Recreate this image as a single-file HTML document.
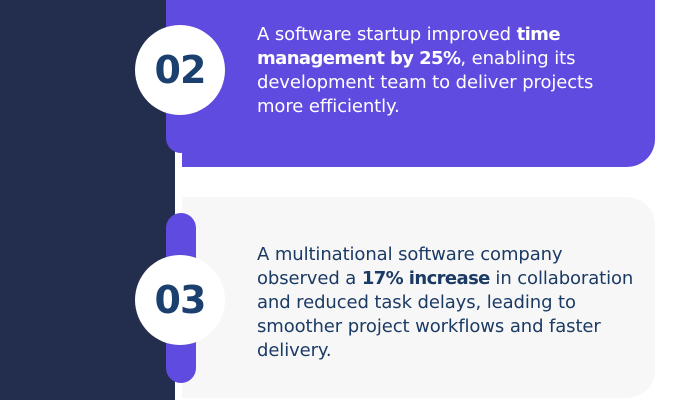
<!DOCTYPE html>
<html><head><style>
body{margin:0;width:700px;height:400px;position:relative;overflow:hidden;background:#fff;font-family:"Liberation Sans",sans-serif}
div{position:absolute}
.t{font-family:"DejaVu Sans","Liberation Sans",sans-serif;font-size:18px;line-height:24px;letter-spacing:-0.1px;white-space:nowrap}
.t b{letter-spacing:-0.6px}
.c{width:90px;height:90px;border-radius:50%;background:#fff;color:#1b3f6e;font-weight:bold;font-size:38px;line-height:90px;text-align:center;font-family:"DejaVu Sans",sans-serif;letter-spacing:-1px}
</style></head><body>
<div style="left:0;top:0;width:175px;height:400px;background:#232e4f"></div>
<div style="left:166px;top:-30px;width:30px;height:183px;border-radius:15px;background:#5f4be0"></div>
<div style="left:182px;top:-30px;width:473px;height:197px;border-radius:0 0 28px 0;background:#5f4be0"></div>
<div style="left:182px;top:197px;width:473px;height:201px;border-radius:0 28px 28px 0;background:#f7f7f7"></div>
<div style="left:166px;top:213px;width:30px;height:170px;border-radius:15px;background:#5f4be0"></div>
<div class="c" style="left:135px;top:25px">02</div>
<div class="c" style="left:135px;top:255px">03</div>
<div class="t" style="left:257px;top:23px;color:#fff">A software startup improved <b>time</b><br><b>management by 25%</b>, enabling its<br>development team to deliver projects<br>more efficiently.</div>
<div class="t" style="left:257px;top:243px;color:#1b3a64">A multinational software company<br>observed a <b>17% increase</b> in collaboration<br>and reduced task delays, leading to<br>smoother project workflows and faster<br>delivery.</div>
</body></html>
